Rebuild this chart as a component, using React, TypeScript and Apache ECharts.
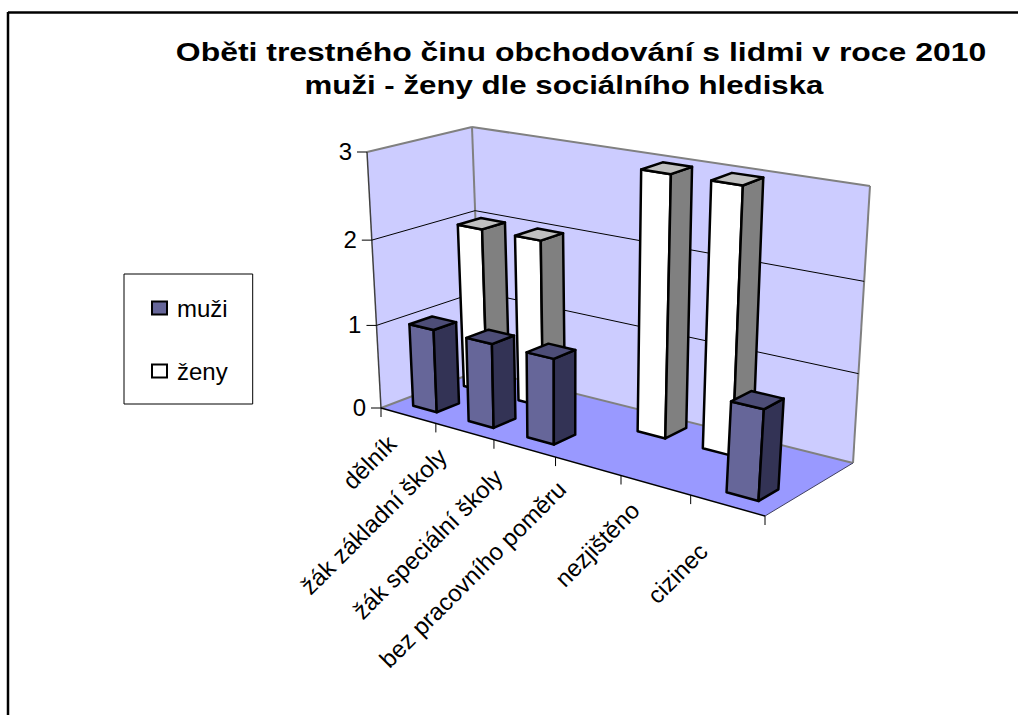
import React, { useEffect, useRef } from "react";
import * as echarts from "echarts";

const titleLines = [
  "Oběti trestného činu obchodování s lidmi v roce 2010",
  "muži - ženy dle sociálního hlediska",
];
const categories = [
  "dělník",
  "žák základní školy",
  "žák speciální školy",
  "bez pracovního poměru",
  "nezjištěno",
  "cizinec",
];
const valueTicks = [0, 1, 2, 3];
const muzi = [1, 1, 1, 0, 0, 1];
const zeny = [2, 2, 0, 3, 3, 0];

// The box of the 3D scene on the page: corners named by category, value, depth
const P000 = [381, 408], P100 = [765, 516], P001 = [481, 370], P101 = [853, 463];
const P010 = [367, 152], P110 = [784, 224], P011 = [472, 127], P111 = [870, 186];
// Where each rotated category label ends, relative to its place on the front axis
const labelOffsets = [[-16, 24], [-22, 21], [-26, 25], [-26, 19], [-20, 21], [-24, 42]];
const warp = (t: number, r: number) => t / (t + r * (1 - t));

function project(u: number, v: number, w: number): number[] {
  const a = warp(u, 1.2), b = warp(v, 1.05), c = w;
  const out = [0, 0];
  for (let i = 0; i < 2; i++) {
    const bottom =
      (1 - a) * (1 - c) * P000[i] + a * (1 - c) * P100[i] + (1 - a) * c * P001[i] + a * c * P101[i];
    const top =
      (1 - a) * (1 - c) * P010[i] + a * (1 - c) * P110[i] + (1 - a) * c * P011[i] + a * c * P111[i];
    out[i] = bottom + (top - bottom) * b;
  }
  return out;
}

function gridNorm(api: any, params: any, cat: number, val: number) {
  const cs = params.coordSys;
  const c = api.coord([cat, val]);
  return [(c[0] - cs.x) / cs.width, 1 - (c[1] - cs.y) / cs.height];
}

const barHalf = 0.036;

function barRenderer(w0: number, w1: number, front: string, side: string, top: string) {
  return (params: any, api: any) => {
    const cat = api.value(0);
    const val = api.value(1);
    if (!val) return null;
    const [u, v0] = gridNorm(api, params, cat, val);
    const v = v0 * 0.99;
    const u0 = u - barHalf, u1 = u + barHalf;
    const st = { stroke: "#000", lineWidth: 2.5, lineJoin: "round" };
    const poly = (pts: number[][], fill: string) => ({
      type: "polygon",
      shape: { points: pts },
      style: { ...st, fill },
    });
    return {
      type: "group",
      children: [
        poly([project(u0, 0, w0), project(u1, 0, w0), project(u1, v, w0), project(u0, v, w0)], front),
        poly([project(u1, 0, w0), project(u1, 0, w1), project(u1, v, w1), project(u1, v, w0)], side),
        poly([project(u0, v, w0), project(u1, v, w0), project(u1, v, w1), project(u0, v, w1)], top),
      ],
    };
  };
}

const line = (a: number[], b: number[], stroke: string, lineWidth: number) => ({
  type: "line",
  shape: { x1: a[0], y1: a[1], x2: b[0], y2: b[1] },
  style: { stroke, lineWidth },
});

function renderBox() {
  const grey = "#808080";
  return {
    type: "group",
    children: [
      { type: "polygon", shape: { points: [P010, P011, project(0, 0, 1), P000] }, style: { fill: "#ccccff" } },
      { type: "polygon", shape: { points: [P011, P111, P101, P001] }, style: { fill: "#ccccff" } },
      { type: "polygon", shape: { points: [P000, P001, P101, P100] }, style: { fill: "#9999ff" } },
      line(P010, P011, grey, 2),
      line(P011, P111, grey, 2),
      line(P011, P001, grey, 2),
      line(P111, P101, grey, 2),
      line(P000, P001, grey, 2),
      line(P001, P101, grey, 2),
      line(P010, P000, "#404040", 1.5),
      line(P000, P100, "#000", 1.5),
      line(P100, P101, "#404060", 1),
    ],
  };
}

function renderValueTick(params: any, api: any) {
  const val = api.value(1);
  const [, v] = gridNorm(api, params, 0, val);
  const front = project(0, v, 0);
  const corner = project(0, v, 1);
  const right = project(1, v, 1);
  const children: any[] = [line([front[0] - 10, front[1]], front, "#000", 1)];
  if (val > 0 && val < valueTicks[valueTicks.length - 1]) {
    children.push(line(front, corner, "#000", 1), line(corner, right, "#000", 1));
  }
  children.push({
    type: "text",
    x: front[0] - 15,
    y: front[1] - 1,
    style: {
      text: String(val),
      fill: "#000",
      font: '24px "Liberation Sans"',
      align: "right",
      verticalAlign: "middle",
    },
  });
  return { type: "group", children };
}

function renderCategory(params: any, api: any) {
  const cat = api.value(0);
  const [u] = gridNorm(api, params, cat, 0);
  const cw = params.coordSys.width ? api.size([1, 0])[0] / params.coordSys.width : 0;
  const end = project(u + cw / 2, 0, 0);
  const children: any[] = [line(end, [end[0], end[1] + 9], "#000", 1)];
  if (cat === 0) {
    const st = project(0, 0, 0);
    children.push(line(st, [st[0], st[1] + 9], "#000", 1));
  }
  const mid = project(u, 0, 0);
  children.push({
    type: "text",
    x: mid[0] + labelOffsets[cat][0],
    y: mid[1] + labelOffsets[cat][1],
    rotation: Math.PI / 4,
    style: {
      text: categories[cat],
      fill: "#000",
      font: '24px "Liberation Sans"',
      align: "right",
      verticalAlign: "middle",
    },
  });
  return { type: "group", children };
}

const titleText = (i: number, x: number, y: number, scaleX: number) => ({
  type: "text",
  x,
  y,
  scaleX,
  style: {
    text: titleLines[i],
    fill: "#000",
    font: 'bold 25px "Liberation Sans"',
    align: "center",
    verticalAlign: "middle",
  },
});

export default function App() {
  const ref = useRef<HTMLDivElement>(null);
  useEffect(() => {
    const chart = echarts.init(ref.current!, null, { renderer: "svg" });
    chart.setOption({
      animation: false,
      backgroundColor: "#fff",
      legend: {
        orient: "vertical",
        left: 124,
        top: 274,
        padding: [22, 25, 21, 27],
        itemGap: 39,
        itemWidth: 15,
        itemHeight: 13,
        borderColor: "#000",
        borderWidth: 1,
        textStyle: { fontFamily: "Liberation Sans", fontSize: 24, color: "#000", padding: [0, 0, 4, 5] },
        data: [
          { name: "muži", icon: "rect", itemStyle: { color: "#666699", borderColor: "#000", borderWidth: 2 } },
          { name: "ženy", icon: "rect", itemStyle: { color: "#ffffff", borderColor: "#000", borderWidth: 2 } },
        ],
      },
      grid: { left: 381, top: 150, width: 384, height: 258 },
      xAxis: { type: "category", data: categories, show: false },
      yAxis: { type: "value", min: 0, max: 3, interval: 1, show: false },
      graphic: [
        { type: "line", shape: { x1: 8, y1: 12.5, x2: 1018, y2: 12.5 }, style: { stroke: "#000", lineWidth: 2.5 } },
        { type: "line", shape: { x1: 8, y1: 12, x2: 8, y2: 715 }, style: { stroke: "#000", lineWidth: 2.5 } },
        titleText(0, 581, 52, 1.277),
        titleText(1, 564, 85, 1.25),
      ],
      series: [
        {
          id: "box",
          type: "custom",
          silent: true,
          clip: false,
          z: 1,
          encode: { x: 0, y: 1 },
          data: [[0, 0]],
          renderItem: renderBox,
        },
        {
          id: "valueTicks",
          type: "custom",
          silent: true,
          clip: false,
          z: 2,
          encode: { x: 0, y: 1 },
          data: valueTicks.map((t) => [0, t]),
          renderItem: renderValueTick,
        },
        {
          id: "categoryTicks",
          type: "custom",
          silent: true,
          clip: false,
          z: 2,
          encode: { x: 0, y: 1 },
          data: categories.map((_, i) => [i, 0]),
          renderItem: renderCategory,
        },
        {
          name: "ženy",
          type: "custom",
          silent: true,
          clip: false,
          z: 3,
          itemStyle: { color: "#ffffff" },
          encode: { x: 0, y: 1 },
          data: zeny.map((v, i) => [i, v]),
          renderItem: barRenderer(0.68, 0.905, "#ffffff", "#808080", "#c0c0c0"),
        },
        {
          name: "muži",
          type: "custom",
          silent: true,
          clip: false,
          z: 4,
          itemStyle: { color: "#666699" },
          encode: { x: 0, y: 1 },
          data: muzi.map((v, i) => [i, v]),
          renderItem: barRenderer(0.17, 0.395, "#666699", "#333355", "#4d4d77"),
        },
      ],
    });
    return () => chart.dispose();
  }, []);
  return <div ref={ref} style={{ position: "absolute", left: 0, top: 0, width: 1018, height: 715 }} />;
}
